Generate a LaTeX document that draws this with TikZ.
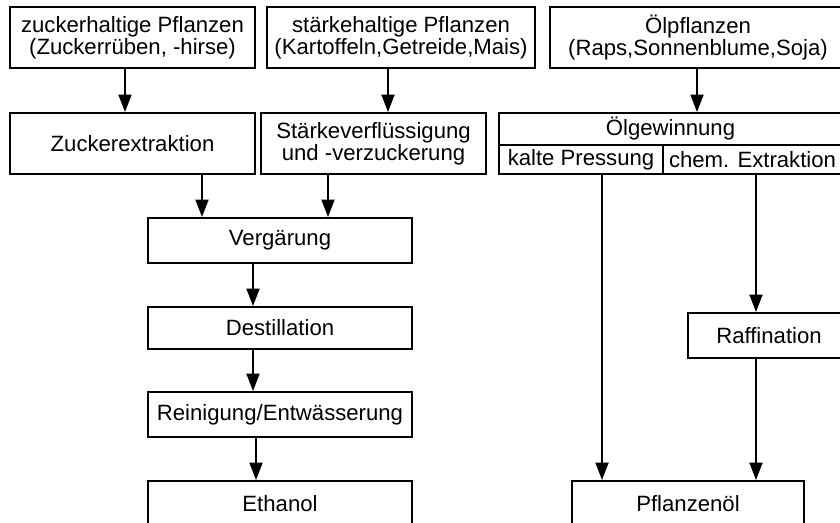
\documentclass[tikz,border=0pt]{standalone}
\usepackage{fontspec}
\setmainfont{Liberation Sans}
\usetikzlibrary{arrows.meta}

\begin{document}
\begin{tikzpicture}[
	stage/.style={draw, line width=1.1pt, align=center, inner sep=0pt,
		font=\fontsize{12.6}{12.4}\selectfont},
	flow/.style={line width=1.1pt, -{Triangle[length=0.35cm, width=0.26cm]}}
]

	% ---- frame (the outer boxes run past the edge)

	\useasboundingbox (0,0) rectangle (16.8,-10.46);
	\clip (0,0) rectangle (16.8,-10.46);

	% ---- raw materials

	\node[stage, minimum width=4.9cm, minimum height=1.22cm] (zucker) at (2.65,-0.75)
		{zuckerhaltige Pflanzen\\(Zuckerrüben, -hirse)};
	\node[stage, minimum width=5.36cm, minimum height=1.22cm] (staerke) at (8.02,-0.75)
		{stärkehaltige Pflanzen\\(Kartoffeln,Getreide,Mais)};
	\node[stage, minimum width=5.92cm, minimum height=1.22cm] (oel) at (13.96,-0.75)
		{Ölpflanzen\\(Raps,Sonnenblume,Soja)};

	% ---- first processing step

	\node[stage, minimum width=4.9cm, minimum height=1.22cm] (extrakt) at (2.65,-2.87)
		{Zuckerextraktion};
	\node[stage, minimum width=4.5cm, minimum height=1.22cm] (verfl) at (7.47,-2.87)
		{Stärkeverflüssigung\\und -verzuckerung};
	\node[stage, minimum width=6.86cm, minimum height=0.64cm] (oelgew) at (13.41,-2.58)
		{Ölgewinnung};
	\node[stage, minimum width=3.28cm, minimum height=0.58cm] (kalt) at (11.62,-3.19)
		{kalte Pressung};
	\node[stage, minimum width=3.58cm, minimum height=0.58cm] (chem) at (15.05,-3.19)
		{chem. Extraktion};

	% ---- ethanol line

	\node[stage, minimum width=5.28cm, minimum height=0.9cm] (gaer) at (5.6,-4.81) {Vergärung};
	\node[stage, minimum width=5.28cm, minimum height=0.84cm] (destill) at (5.6,-6.56) {Destillation};
	\node[stage, minimum width=5.28cm, minimum height=0.9cm] (rein) at (5.6,-8.29) {Reinigung/Entwässerung};
	\node[stage, minimum width=5.28cm, minimum height=0.9cm] (ethanol) at (5.6,-10.07) {Ethanol};

	% ---- oil line

	\node[stage, minimum width=3.24cm, minimum height=0.9cm] (raff) at (15.38,-6.71) {Raffination};
	\node[stage, minimum width=4.64cm, minimum height=0.9cm] (pflanzoel) at (13.76,-10.07) {Pflanzenöl};

	% ---- arrow starts

	\coordinate (s1) at ([xshift=-1.5mm]zucker.south);
	\coordinate (s2) at ([xshift=-2.6mm]staerke.south);
	\coordinate (s3) at ([xshift=-0.2mm]oel.south);
	\coordinate (s4) at ([xshift=13.9mm]extrakt.south);
	\coordinate (s5) at ([xshift=-9.1mm]verfl.south);
	\coordinate (s6) at ([xshift=-5.4mm]gaer.south);
	\coordinate (s7) at ([xshift=-5.4mm]destill.south);
	\coordinate (s8) at ([xshift=-4.8mm]rein.south);
	\coordinate (s9) at ([xshift=4.2mm]kalt.south);
	\coordinate (s10) at ([xshift=0.7mm]chem.south);
	\coordinate (s11) at ([xshift=-2.6mm]raff.south);

	% ---- arrows

	\draw[flow] (s1) -- (s1 |- extrakt.north);
	\draw[flow] (s2) -- (s2 |- verfl.north);
	\draw[flow] (s3) -- (s3 |- oelgew.north);
	\draw[flow] (s4) -- (s4 |- gaer.north);
	\draw[flow] (s5) -- (s5 |- gaer.north);
	\draw[flow] (s6) -- (s6 |- destill.north);
	\draw[flow] (s7) -- (s7 |- rein.north);
	\draw[flow] (s8) -- (s8 |- ethanol.north);
	\draw[flow] (s9) -- (s9 |- pflanzoel.north);
	\draw[flow] (s10) -- (s10 |- raff.north);
	\draw[flow] (s11) -- (s11 |- pflanzoel.north);

\end{tikzpicture}
\end{document}
